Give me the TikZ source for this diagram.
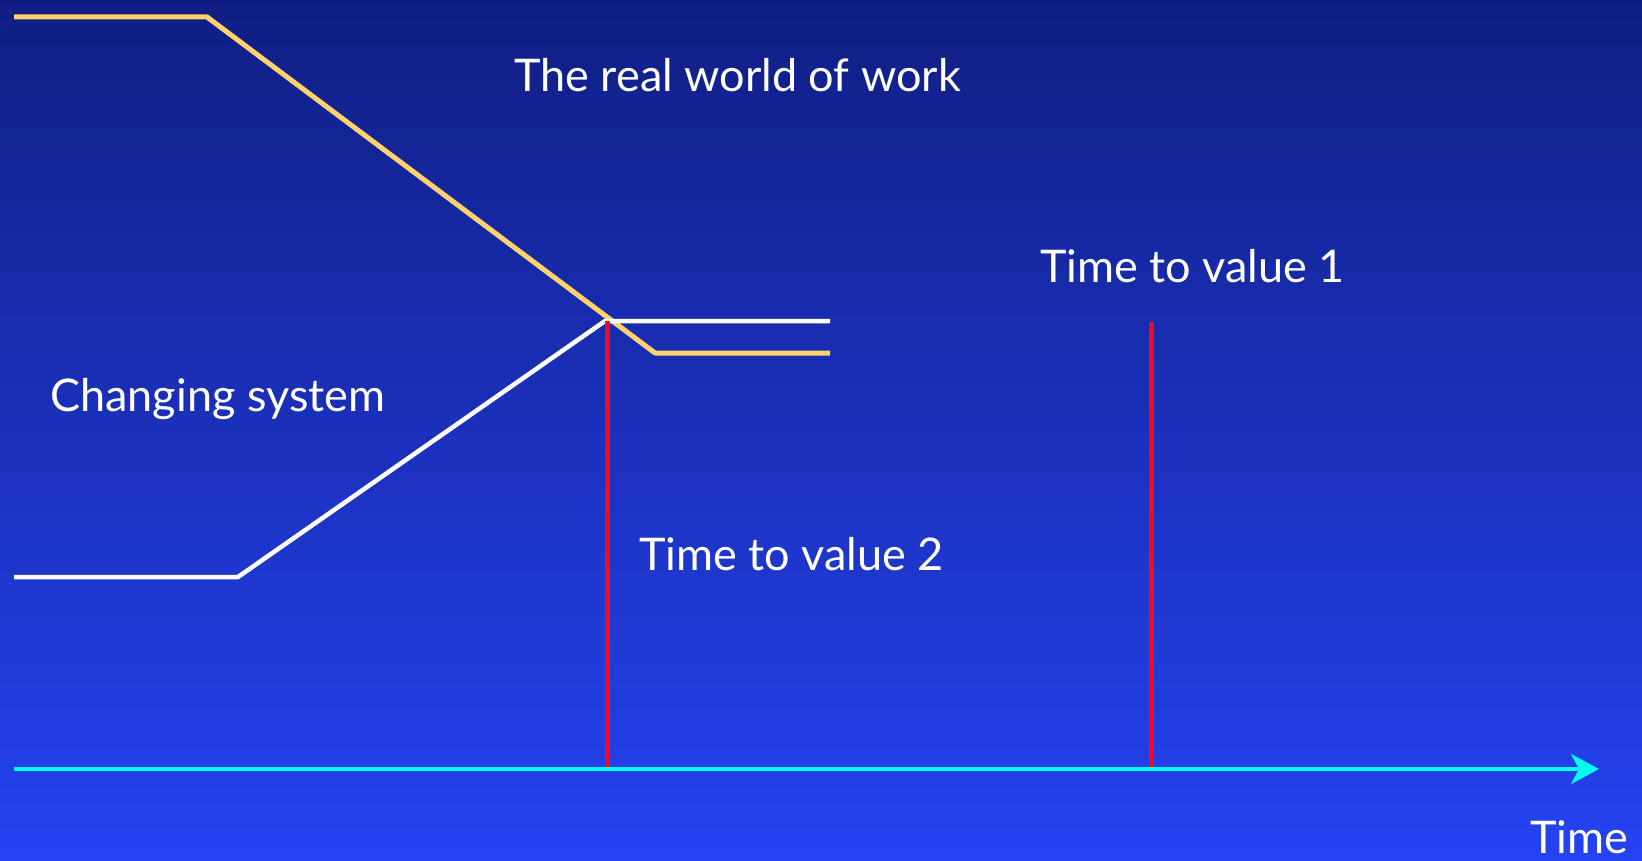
\documentclass[tikz,border=0pt]{standalone}
\usepackage{fontspec}
\setmainfont{Lato}
\usetikzlibrary{arrows.meta}
\definecolor{bgtop}{RGB}{16,30,132}
\definecolor{bgbot}{RGB}{37,67,242}
\definecolor{gold}{RGB}{255,210,110}
\definecolor{redline}{RGB}{240,10,40}
\definecolor{axiscyan}{RGB}{0,255,240}
\tikzset{
  lbl/.style={anchor=base west, inner sep=0pt, text=white, font=\fontsize{45}{50}\selectfont},
  goldline/.style={draw=gold, line width=5pt, line join=round},
  whiteline/.style={draw=white, line width=4.5pt, line join=round},
  marker/.style={draw=redline, line width=5pt},
  axisline/.style={draw=axiscyan, line width=4pt, -{Stealth[length=28pt,width=30pt,inset=8pt]}}
}
\begin{document}
\begin{tikzpicture}[x=1pt,y=-1pt]
\shade[top color=bgtop, bottom color=bgbot] (0,0) rectangle (1642,861);
\useasboundingbox (0,0) rectangle (1642,861);
% coordinates
\coordinate (g0) at (14,17);
\coordinate (g1) at (207,17);
\coordinate (g2) at (655,353);
\coordinate (g3) at (830,353);
\coordinate (w0) at (14,577);
\coordinate (w1) at (238,577);
\coordinate (w2) at (605,321);
\coordinate (w3) at (830,321);
\coordinate (r2t) at (607,321);
\coordinate (r2b) at (607,769);
\coordinate (r1t) at (1151,322);
\coordinate (r1b) at (1151,769);
\coordinate (a0) at (14,769);
\coordinate (a1) at (1599,769);
% lines
\draw[goldline] (g0) -- (g1) -- (g2) -- (g3);
\draw[whiteline] (w0) -- (w1) -- (w2) -- (w3);
\draw[marker] (r2t) -- (r2b);
\draw[marker] (r1t) -- (r1b);
\draw[axisline] (a0) -- (a1);
% labels
\node[lbl] (real) at (514,92) {The real world of work};
\node[lbl] (tv1) at (1040,283) {Time to value 1};
\node[lbl] (chg) at (50,411) {Changing system};
\node[lbl] (tv2) at (639,570) {Time to value 2};
\node[lbl] (time) at (1530,853) {Time};
\end{tikzpicture}
\end{document}
